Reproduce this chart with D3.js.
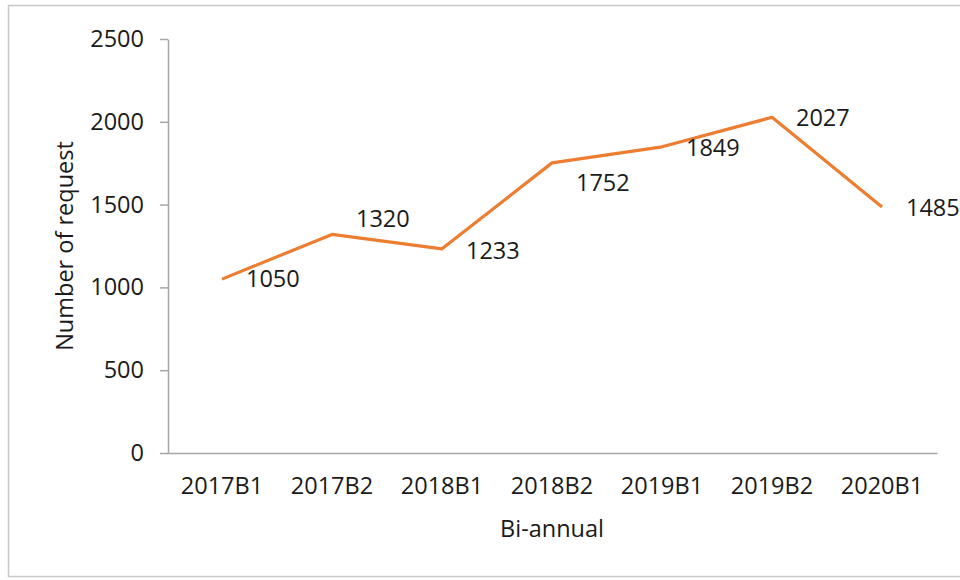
<!DOCTYPE html>
<html>
<head>
<meta charset="utf-8">
<script src="https://cdn.jsdelivr.net/npm/d3@7"></script>
<style>
  body { margin: 0; background: #fff; }
  text { font-family: "Open Sans", sans-serif; fill: #1a1a1a; }
</style>
</head>
<body>
<div id="chart"></div>
<script>
// bi-annual periods and number of requests
const periods = ["2017B1", "2017B2", "2018B1", "2018B2", "2019B1", "2019B2", "2020B1"];
const requests = [1050, 1320, 1233, 1752, 1849, 2027, 1485];
const yTicks = [0, 500, 1000, 1500, 2000, 2500];
// vertical nudge of each data label (px), like Excel's auto placement
const labelShift = [0, -16, 2, 20, 1, 0, 1];

const W = 960, H = 580;
const margin = { top: 39, right: 23, bottom: 127, left: 167 };
const fontSize = "23.5px";

const svg = d3.select("#chart")
  .append("svg")
  .attr("width", W)
  .attr("height", H);

// outer frame
svg.append("rect")
  .attr("x", 8.5)
  .attr("y", 5.5)
  .attr("width", W)
  .attr("height", 571)
  .attr("fill", "none")
  .attr("stroke", "#c8c8c8")
  .attr("stroke-width", 1.5);

const x = d3.scaleBand()
  .domain(periods)
  .range([margin.left, W - margin.right])
  .padding(0);

const y = d3.scaleLinear()
  .domain([0, 2500])
  .range([H - margin.bottom, margin.top]);

// y axis
const gy = svg.append("g")
  .attr("transform", `translate(${margin.left + 1}, 0)`)
  .call(d3.axisLeft(y).tickValues(yTicks).tickFormat(d3.format("d"))
    .tickSize(8).tickPadding(16).tickSizeOuter(0));
gy.select(".domain").attr("stroke", "#a6a6a6").attr("stroke-width", 1.5);
gy.selectAll(".tick line").attr("stroke", "#a6a6a6").attr("stroke-width", 1.5);
gy.selectAll(".tick text").style("font-size", fontSize).style("font-family", "Open Sans").attr("fill", "#1a1a1a");

// x axis
const gx = svg.append("g")
  .attr("transform", `translate(0, ${H - margin.bottom})`)
  .call(d3.axisBottom(x).tickSize(0).tickPadding(24).tickSizeOuter(0));
gx.select(".domain").attr("stroke", "#a6a6a6").attr("stroke-width", 1.5);
gx.selectAll(".tick text").style("font-size", fontSize).style("font-family", "Open Sans").attr("fill", "#1a1a1a");

const cx = d => x(d) + x.bandwidth() / 2;

// the line
const line = d3.line()
  .x((d, i) => cx(periods[i]))
  .y(d => y(d));

svg.append("path")
  .datum(requests)
  .attr("fill", "none")
  .attr("stroke", "#ed7d31")
  .attr("stroke-width", 3.2)
  .attr("stroke-linejoin", "round")
  .attr("d", line);

// data labels, right of each point
svg.selectAll(".label")
  .data(requests)
  .enter()
  .append("text")
  .attr("class", "label")
  .attr("x", (d, i) => cx(periods[i]) + 24)
  .attr("y", (d, i) => y(d) + labelShift[i])
  .attr("dy", "0.35em")
  .style("font-size", fontSize)
  .text(d => d);

// axis titles
svg.append("text")
  .attr("transform", `translate(73, ${(y(0) + y(2500)) / 2}) rotate(-90)`)
  .attr("text-anchor", "middle")
  .style("font-size", fontSize)
  .text("Number of request");

svg.append("text")
  .attr("x", (margin.left + W - margin.right) / 2)
  .attr("y", 537)
  .attr("text-anchor", "middle")
  .style("font-size", fontSize)
  .text("Bi-annual");
</script>
</body>
</html>
